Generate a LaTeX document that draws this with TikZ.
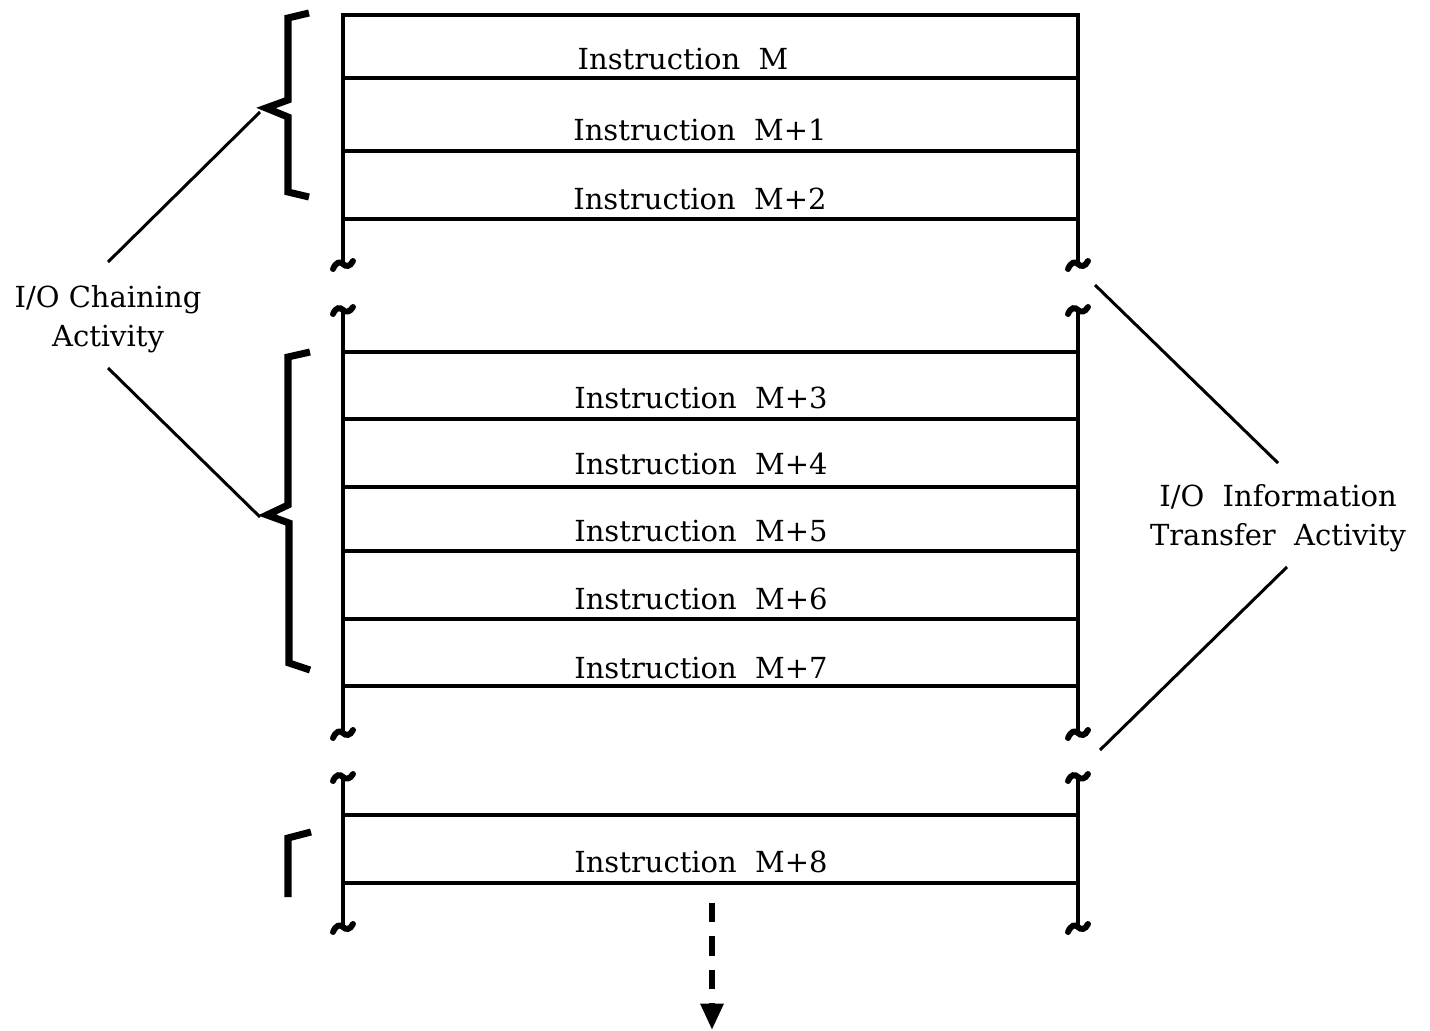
\documentclass[tikz,border=0pt]{standalone}
\usepackage{fontspec}
\setmainfont{DejaVu Serif}
\usetikzlibrary{arrows.meta}
\begin{document}
\begin{tikzpicture}[x=0.02cm,y=-0.02cm,
  rule/.style={line width=2.5pt},
  brace/.style={line width=4pt,line join=miter},
  leader/.style={line width=1.7pt},
  lbl/.style={font=\fontsize{16.5}{19}\selectfont,inner sep=0pt},
  instr/.style={lbl,anchor=center},
  brk/.style={line width=3.4pt,line cap=round},
  brkdown/.pic={\draw[brk] (-10,5) .. controls (-7,-2) and (-3,-3) .. (0,0)
        .. controls (3,3) and (7,3) .. (10,-3);},
  brkup/.pic={\draw[brk] (-10,4) .. controls (-7,-3) and (-3,-3) .. (0,0)
        .. controls (3,3) and (7,2) .. (10,-3);}]
\useasboundingbox (0,0) rectangle (1430,1031);

% ---- upper block of memory cells
\coordinate (aTL) at (343,15);  \coordinate (aTR) at (1078,15);
\coordinate (aBL) at (343,264); \coordinate (aBR) at (1078,264);
\draw[rule] (aBL) -- (aTL) -- (aTR) -- (aBR);
\foreach \yy in {78,151,219} \draw[rule] (343,\yy) -- (1078,\yy);
\pic at (aBL) {brkdown};
\pic at (aBR) {brkdown};
\node[instr] (m0) at (683,59) {Instruction\ \ M};
\node[instr] (m1) at (700,130) {Instruction\ \ M+1};
\node[instr] (m2) at (700,199) {Instruction\ \ M+2};

% ---- middle block
\coordinate (bTL) at (343,310); \coordinate (bTR) at (1078,310);
\coordinate (bBL) at (343,733); \coordinate (bBR) at (1078,733);
\draw[rule] (bTL) -- (bBL);
\draw[rule] (bTR) -- (bBR);
\foreach \yy in {352,419,487,551,619,686} \draw[rule] (343,\yy) -- (1078,\yy);
\pic at (bTL) {brkup};
\pic at (bTR) {brkup};
\pic at (bBL) {brkdown};
\pic at (bBR) {brkdown};
\node[instr] (m3) at (701,398) {Instruction\ \ M+3};
\node[instr] (m4) at (701,464) {Instruction\ \ M+4};
\node[instr] (m5) at (701,531) {Instruction\ \ M+5};
\node[instr] (m6) at (701,599) {Instruction\ \ M+6};
\node[instr] (m7) at (701,668) {Instruction\ \ M+7};

% ---- lower block
\coordinate (cTL) at (343,777); \coordinate (cTR) at (1078,777);
\coordinate (cBL) at (343,927); \coordinate (cBR) at (1078,927);
\draw[rule] (cTL) -- (cBL);
\draw[rule] (cTR) -- (cBR);
\foreach \yy in {815,883} \draw[rule] (343,\yy) -- (1078,\yy);
\pic at (cTL) {brkup};
\pic at (cTR) {brkup};
\pic at (cBL) {brkdown};
\pic at (cBR) {brkdown};
\node[instr] (m8) at (701,862) {Instruction\ \ M+8};

% ---- continuation arrow
\coordinate (arrS) at (712,903);
\coordinate (arrE) at (712,1030);
\draw[line width=3.4pt,dash pattern=on 11pt off 8pt,
  -{Triangle[width=12.5pt,length=15pt]}] (arrS) -- (arrE);

% ---- braces on the left
\draw[brace] (309,13) -- (288,18) -- (288,100) -- (266,108) -- (288,117)
  -- (288,192) -- (309,197);
\coordinate (braceA) at (260,112);
\draw[brace] (310,352) -- (288,357) -- (288,505) -- (267,515) -- (289,523)
  -- (289,663) -- (310,670);
\coordinate (braceB) at (260,517);
\draw[brace] (311,832) -- (288,838) -- (288,897);

% ---- side labels and leaders
\node[lbl,align=center] (chain) at (108,319) {I/O\ Chaining\\[3pt]Activity};
\node[lbl,align=center] (xfer) at (1278,518) {I/O\ \ Information\\[3pt]Transfer\ \ Activity};
\draw[leader] (108,262) -- (braceA);
\draw[leader] (108,368) -- (braceB);
\coordinate (x1) at (1095,285);
\coordinate (x2) at (1100,750);
\draw[leader] (x1) -- (1278,463);
\draw[leader] (x2) -- (1287,567);
\end{tikzpicture}
\end{document}
